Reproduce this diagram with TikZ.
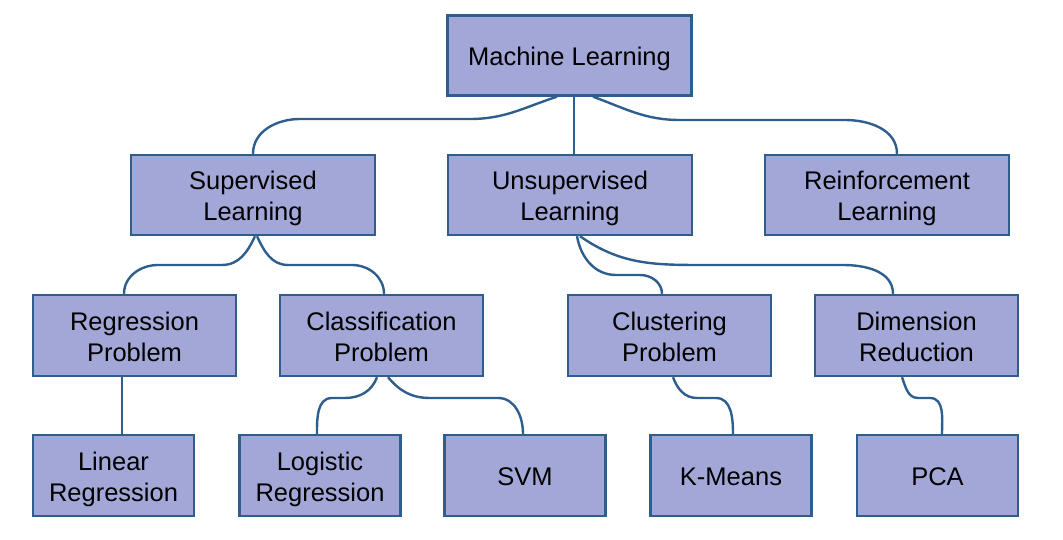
\documentclass[tikz,border=0pt]{standalone}
\usepackage{fontspec}
\setmainfont{Liberation Sans}
\usetikzlibrary{calc}
\definecolor{boxfill}{HTML}{A2A7D8}
\definecolor{boxline}{HTML}{2E5E8E}
\newcommand\onel[1]{\raisebox{-10.2pt}[0pt][0pt]{#1}}
\newcommand\twol[2]{\raisebox{5.3pt}[0pt][0pt]{\begin{tabular}[t]{@{}c@{}}#1\\#2\end{tabular}}}
\begin{document}
\begin{tikzpicture}[x=1pt,y=1pt,
  box/.style={draw=boxline, fill=boxfill, line width=2.4pt, inner sep=0pt,
    font=\fontsize{25.5}{31}\selectfont, text=black},
  wide/.style={box, minimum width=244pt, minimum height=80pt},
  mid/.style={box, minimum width=203pt, minimum height=81pt},
  small/.style={box, minimum width=161pt, minimum height=81pt},
  link/.style={draw=boxline, line width=2.4pt}]
\useasboundingbox (0,0) rectangle (1063,540);
\node[wide] (ML) at (569.5,484.5) {\onel{Machine Learning}};
\node[wide] (SL) at (253,345) {\twol{Supervised}{Learning}};
\node[wide] (UL) at (570,345) {\twol{Unsupervised}{Learning}};
\node[wide] (RL) at (887,345) {\twol{Reinforcement}{Learning}};
\node[mid] (RP) at (134.5,204.5) {\twol{Regression}{Problem}};
\node[mid] (CP) at (381.5,204.5) {\twol{Classification}{Problem}};
\node[mid] (CL) at (669.5,204.5) {\twol{Clustering}{Problem}};
\node[mid] (DR) at (916.5,204.5) {\twol{Dimension}{Reduction}};
\node[small] (LR) at (113.5,64.5) {\twol{Linear}{Regression}};
\node[small] (LG) at (320,64.5) {\twol{Logistic}{Regression}};
\node[small] (SVM) at (525,64.5) {\onel{SVM}};
\node[small] (KM) at (731,64.5) {\onel{K-Means}};
\node[small] (PCA) at (937.5,64.5) {\onel{PCA}};
% ML -> SL
\draw[link] ($(ML.south)+(-12.5,0)$) to[out=198,in=0] (470,421) -- (300,421) to[out=180,in=90] (SL.north);
% ML -> UL
\draw[link] ($(ML.south)+(4.5,0)$) -- ($(UL.north)+(4,0)$);
% ML -> RL
\draw[link] ($(ML.south)+(23.5,0)$) to[out=-20,in=180] (680,420) -- (845,420) to[out=0,in=90] ($(RL.north)+(10,0)$);
% SL -> RP
\draw[link] ($(SL.south)+(2,0)$) to[out=-115,in=0] (222,275) -- (158,275) to[out=180,in=90] ($(RP.north)+(-10.5,0)$);
% SL -> CP
\draw[link] ($(SL.south)+(4,0)$) to[out=-65,in=180] (288,275) -- (352,275) to[out=0,in=90] ($(CP.north)+(2.5,0)$);
% UL -> CL
\draw[link] ($(UL.south)+(7,0)$) to[out=-80,in=180] (616,265) -- (640,265) to[out=0,in=90] ($(CL.north)+(-7.5,0)$);
% UL -> DR
\draw[link] ($(UL.south)+(10,0)$) to[out=-35,in=180] (700,275) -- (843,275) to[out=0,in=90] ($(DR.north)+(-23.5,0)$);
% RP -> LR
\draw[link] ($(RP.south)+(-12.5,0)$) -- ($(LR.north)+(8.5,0)$);
% CP -> LG
\draw[link] ($(CP.south)+(-4.5,0)$) to[out=-110,in=0] (345,142) -- (332,142) to[out=180,in=90] ($(LG.north)+(-3,0)$);
% CP -> SVM
\draw[link] ($(CP.south)+(6.5,0)$) to[out=-50,in=180] (430,142) -- (498,142) to[out=0,in=90] ($(SVM.north)+(-2,0)$);
% CL -> KM
\draw[link] ($(CL.south)+(3.5,0)$) to[out=-70,in=180] (697,142) -- (716,142) to[out=0,in=90] ($(KM.north)+(2,0)$);
% DR -> PCA
\draw[link] ($(DR.south)+(-14.5,0)$) to[out=-70,in=180] (918,142) -- (930,142) to[out=0,in=90] ($(PCA.north)+(4.5,0)$);
\end{tikzpicture}
\end{document}
